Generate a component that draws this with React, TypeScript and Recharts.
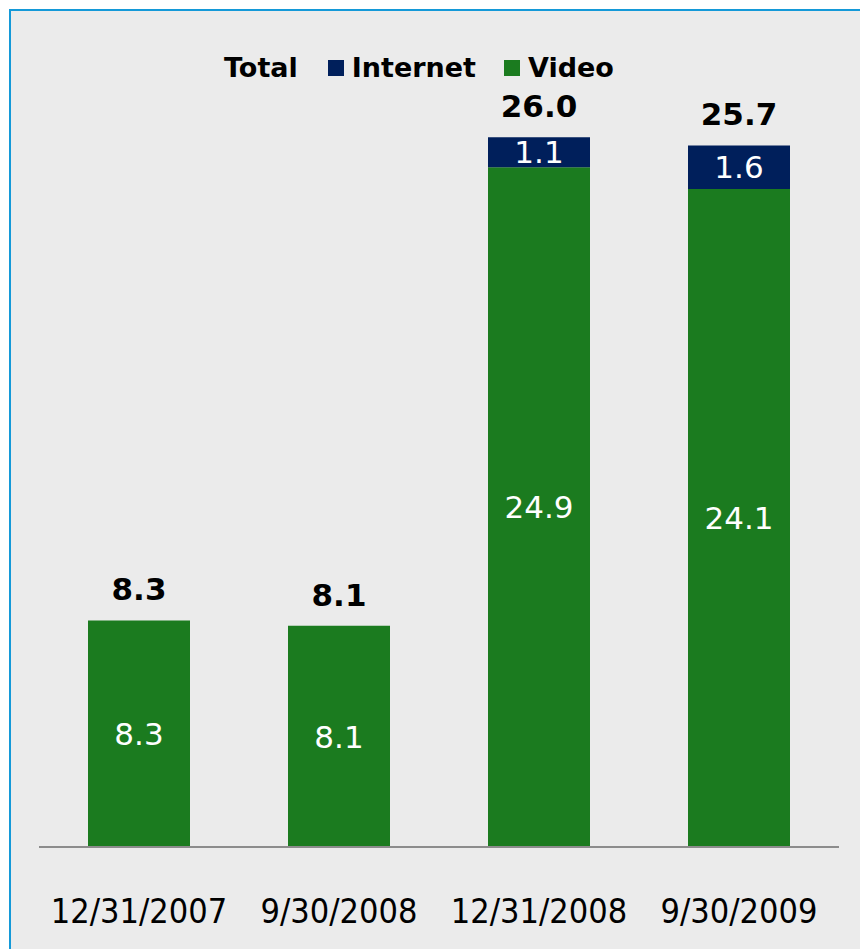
import React from "react";
import {
  ComposedChart,
  Bar,
  Line,
  XAxis,
  YAxis,
  Legend,
  LabelList,
} from "recharts";

const categories = ["12/31/2007", "9/30/2008", "12/31/2008", "9/30/2009"];
const videoValues = [8.3, 8.1, 24.9, 24.1];
const internetValues: (number | null)[] = [null, null, 1.1, 1.6];
const totalValues = [8.3, 8.1, 26.0, 25.7];

const NAVY = "#001f5b";
const GREEN = "#1b7b1f";
const BORDER = "#1499d8";
const BG = "#ebebeb";

const data = categories.map((date, i) => ({
  date,
  video: videoValues[i],
  internet: internetValues[i],
  total: totalValues[i],
}));

// white value label centred inside a bar segment
const InsideLabel = (props: any) => {
  const { x, y, width, height, value } = props;
  if (value == null || value === 0) return null;
  return (
    <text
      x={x + width / 2}
      y={y + height / 2}
      dy="0.36em"
      textAnchor="middle"
      fill="#fff"
      fontFamily="'DejaVu Sans', sans-serif"
      fontSize={31}
    >
      {Number(value).toFixed(1)}
    </text>
  );
};

// bold total above the stack
const TotalLabel = (props: any) => {
  const { x, y, value } = props;
  return (
    <text
      x={x}
      y={y - 20}
      textAnchor="middle"
      fill="#000"
      fontFamily="'DejaVu Sans', sans-serif"
      fontWeight="bold"
      fontSize={31}
    >
      {Number(value).toFixed(1)}
    </text>
  );
};

const DateTick = (props: any) => {
  const { x, y, payload } = props;
  return (
    <text
      x={x}
      y={y + 68}
      textAnchor="middle"
      fill="#000"
      fontFamily="'DejaVu Sans Condensed', 'DejaVu Sans', sans-serif"
      fontStretch="condensed"
      fontSize={34}
    >
      {payload.value}
    </text>
  );
};

const legendText: React.CSSProperties = {
  fontFamily: "'DejaVu Sans', sans-serif",
  fontWeight: "bold",
  fontSize: 27,
  lineHeight: "27px",
  color: "#000",
};

const ChartLegend = () => (
  <div style={{ display: "flex", alignItems: "center", marginLeft: 224 }}>
    <span style={legendText}>Total</span>
    <span
      style={{ width: 16, height: 16, background: NAVY, marginLeft: 30, marginRight: 8 }}
    />
    <span style={legendText}>Internet</span>
    <span
      style={{ width: 16, height: 16, background: GREEN, marginLeft: 28, marginRight: 8 }}
    />
    <span style={legendText}>Video</span>
  </div>
);

export default function App() {
  return (
    <div style={{ position: "absolute", left: 0, top: 0, width: 860, height: 949, background: "#fff" }}>
      <div
        style={{
          position: "absolute",
          left: 9,
          top: 9,
          width: 851,
          height: 940,
          boxSizing: "border-box",
          background: BG,
          borderTop: `2px solid ${BORDER}`,
          borderLeft: `2px solid ${BORDER}`,
        }}
      />
      <div style={{ position: "absolute", left: 0, top: 0 }}>
        <ComposedChart
          width={860}
          height={949}
          data={data}
          margin={{ top: 28, right: 21, bottom: 42, left: 39 }}
        >
          <XAxis
            dataKey="date"
            height={60}
            tickLine={false}
            axisLine={{ stroke: "#8c8c8c", strokeWidth: 2 }}
            tick={<DateTick />}
            interval={0}
          />
          <YAxis hide domain={[0, 30]} />
          <Legend
            verticalAlign="middle"
            align="center"
            content={<ChartLegend />}
            wrapperStyle={{ top: 54, left: 0, width: 860 }}
          />
          <Bar dataKey="video" stackId="a" fill={GREEN} barSize={102} isAnimationActive={false}>
            <LabelList dataKey="video" content={<InsideLabel />} />
          </Bar>
          <Bar dataKey="internet" stackId="a" fill={NAVY} barSize={102} isAnimationActive={false}>
            <LabelList dataKey="internet" content={<InsideLabel />} />
          </Bar>
          <Line
            dataKey="total"
            stroke="none"
            dot={false}
            activeDot={false}
            legendType="none"
            isAnimationActive={false}
          >
            <LabelList dataKey="total" content={<TotalLabel />} />
          </Line>
        </ComposedChart>
      </div>
    </div>
  );
}
